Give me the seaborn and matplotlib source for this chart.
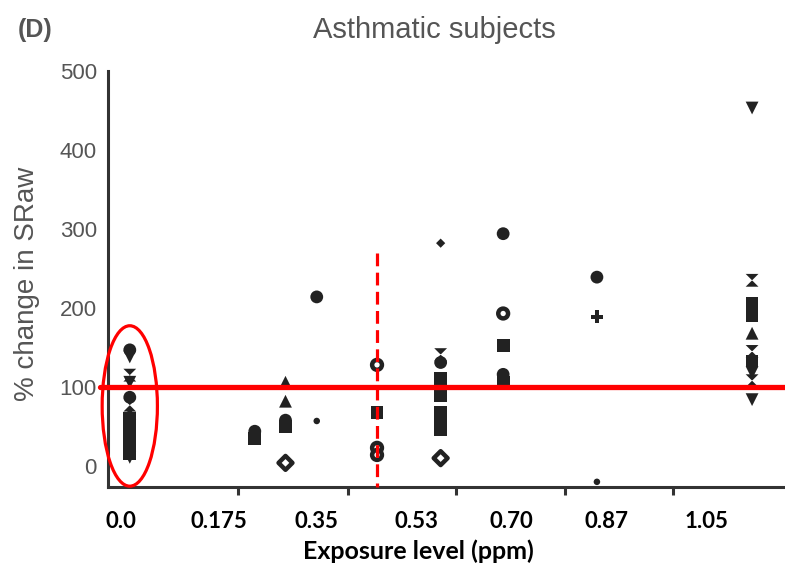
import matplotlib
matplotlib.use("Agg")
import matplotlib.pyplot as plt
from matplotlib.path import Path
from matplotlib.patches import Ellipse
import seaborn as sns
import pandas as pd

# column positions on the exposure axis (ppm scale)
col_x = [0.016, 0.24, 0.295, 0.351, 0.459, 0.573, 0.685, 0.853, 1.131]

# % change in SRaw per column
col_values = [
    [147, 138, 115, 106, 87, 77, 67, 60, 53, 46, 40, 34, 28, 22, 16, 11],
    [44, 35],
    [106, 82, 58, 50, 4],
    [214, 57],
    [128, 68, 23, 14],
    [282, 141, 131, 111, 98, 89, 68, 57, 46, 10],
    [294, 193, 153, 116, 106],
    [239, 189, -20],
    [453, 235, 206, 190, 168, 145, 133, 118, 108, 84],
]

# subject symbol for each value
col_kinds = [
    ['circle', 'tri_down', 'hourglass', 'tri_down', 'circle', 'hourglass', 'tri_up', 'square',
     'square', 'square', 'square', 'square', 'square', 'square', 'square', 'tri_down'],
    ['circle', 'square'],
    ['tri_up', 'tri_up', 'circle', 'square', 'open_diamond'],
    ['circle', 'dot'],
    ['open_circle', 'square', 'open_circle', 'open_circle'],
    ['small_diamond', 'hourglass', 'circle', 'square', 'square', 'square', 'square', 'square',
     'square', 'open_diamond'],
    ['circle', 'open_circle', 'square', 'circle', 'square'],
    ['circle', 'plus', 'dot'],
    ['tri_down', 'hourglass', 'square', 'square', 'tri_up', 'hourglass', 'square', 'tri_down',
     'hourglass', 'tri_down'],
]

tick_values = [0.0, 0.175, 0.35, 0.53, 0.70, 0.87, 1.05]
tick_labels = ['0.0', '0.175', '0.35', '0.53', '0.70', '0.87', '1.05']
ref_line = 100

rows = []
for x, vals, kinds in zip(col_x, col_values, col_kinds):
    for v, k in zip(vals, kinds):
        rows.append({'exposure': x, 'change': v, 'kind': k})
df = pd.DataFrame(rows)

hourglass = Path([(-1, 1), (1, 1), (-1, -1), (1, -1), (-1, 1)],
                 [Path.MOVETO, Path.LINETO, Path.LINETO, Path.LINETO, Path.CLOSEPOLY])
filled_markers = {'circle': 'o', 'square': 's', 'tri_up': '^', 'tri_down': 'v',
                  'hourglass': hourglass, 'plus': 'P'}
small_markers = {'dot': 'o', 'small_diamond': 'D'}
open_markers = {'open_circle': 'o', 'open_diamond': 'D'}

sns.set_style('white')
plt.rcParams['font.family'] = ['Liberation Sans', 'DejaVu Sans']

fig = plt.figure(figsize=(7.85, 5.67), dpi=100)
ax = fig.add_axes([0.1376, 0.141, 0.8624, 0.734])

ink = '#222222'
grey = '#555555'

filled = df[df['kind'].isin(filled_markers.keys())]
sns.scatterplot(data=filled, x='exposure', y='change', style='kind', markers=filled_markers,
                color=ink, s=85, linewidth=0, legend=False, ax=ax, zorder=3)
small = df[df['kind'].isin(small_markers.keys())]
sns.scatterplot(data=small, x='exposure', y='change', style='kind', markers=small_markers,
                color=ink, s=22, linewidth=0, legend=False, ax=ax, zorder=3)
opened = df[df['kind'].isin(open_markers.keys())]
sns.scatterplot(data=opened, x='exposure', y='change', style='kind', markers=open_markers,
                facecolor='white', edgecolor=ink, s=50, linewidth=3.2, legend=False, ax=ax, zorder=3)

ax.set_xlim(-0.023, 1.19)
ax.set_ylim(-26.6, 500)

# red annotations
ax.axhline(ref_line, xmin=-0.012, xmax=1, color='#ff0000', lw=3.8, zorder=4, clip_on=False)
ax.plot([0.459, 0.459], [270, -26.6], color='#ff0000', lw=2.3, ls=(0, (4, 2)), zorder=4, clip_on=False)
ax.add_patch(Ellipse((0.016, 76), 0.099, 203, fill=False, edgecolor='#ff0000', lw=2.3,
                     zorder=5, clip_on=False))

for side in ['top', 'right']:
    ax.spines[side].set_visible(False)
for side in ['left', 'bottom']:
    ax.spines[side].set_color('#333333')
    ax.spines[side].set_linewidth(2.2)

ax.set_yticks([0, 100, 200, 300, 400, 500])
ax.tick_params(axis='y', length=6, width=2.2, color='#333333', labelsize=16, labelcolor=grey, pad=2)
ax.set_xticks(tick_values)
ax.set_xticklabels(tick_labels, fontfamily=['Lato', 'DejaVu Sans'], fontweight='bold',
                   fontsize=16, color='black')
ax.tick_params(axis='x', which='major', length=0, pad=17)
ax.set_xticks([0.21, 0.407, 0.600, 0.796, 0.989], minor=True)
ax.tick_params(axis='x', which='minor', length=6, width=2.2, color='#333333', bottom=True)

ax.set_xlabel('Exposure level (ppm)', fontfamily=['Lato', 'DejaVu Sans'], fontweight='bold',
              fontsize=18, color='black')
ax.xaxis.set_label_coords(0.458, -0.125)
ax.set_ylabel('% change in SRaw', fontsize=20, color=grey)
ax.yaxis.set_label_coords(-0.10, 0.488)

fig.text(0.553, 0.947, 'Asthmatic subjects', fontsize=21, color=grey, ha='center', va='center')
fig.text(0.022, 0.947, '(D)', fontsize=18, color=grey, fontweight='bold', ha='left', va='center')

fig.savefig('out.png', dpi=100)
